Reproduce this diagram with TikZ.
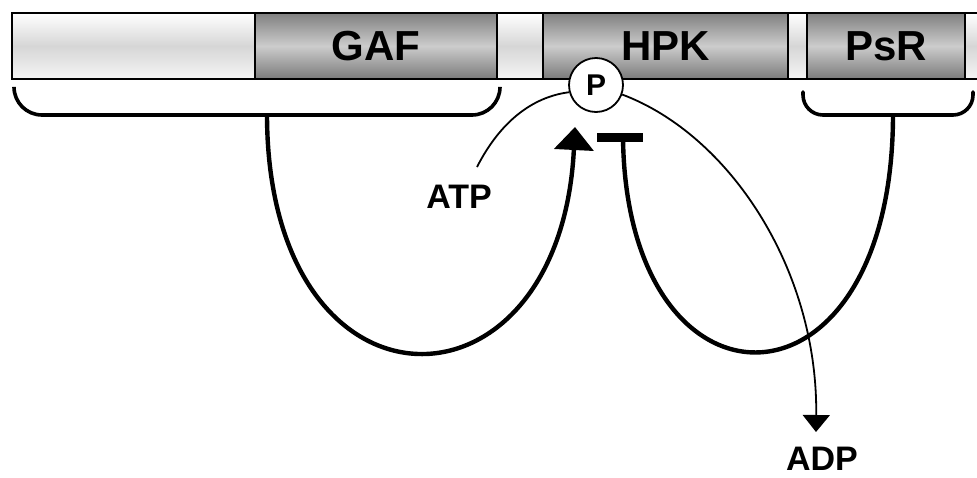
\documentclass[tikz,border=0pt]{standalone}
\usepackage{fontspec}
\setmainfont{Liberation Sans}
\usetikzlibrary{arrows.meta}
\begin{document}
\begin{tikzpicture}[x=1pt,y=-1pt,
  seg/.style={draw, line width=2.8pt, minimum height=66pt, inner sep=0pt, outer sep=0pt, anchor=north west, font=\bfseries\fontsize{42}{42}\selectfont},
  lite/.style={seg, top color=white, bottom color=black!4, middle color=black!16},
  darkseg/.style={seg, top color=black!50, bottom color=black!52, middle color=black!20},
  brace/.style={line width=3.6pt, line cap=round},
  loopline/.style={line width=4.4pt},
  thinline/.style={line width=1.8pt},
  lbl/.style={font=\bfseries\fontsize{34}{34}\selectfont, anchor=base, inner sep=0pt}
]
\useasboundingbox (0,0) rectangle (977,477);

% domain bar
\node[lite, minimum width=243pt] (s1) at (12,13) {};
\node[darkseg, minimum width=242pt] (gaf) at (255,13) {\raisebox{-3pt}{GAF}};
\node[lite, minimum width=46pt] (s3) at (497,13) {};
\node[darkseg, minimum width=245pt] (hpk) at (543,13) {\raisebox{-2pt}{HPK}};
\node[lite, minimum width=19pt] (s5) at (788,13) {};
\node[darkseg, minimum width=158pt] (psr) at (807,13) {\raisebox{-2pt}{PsR}};
\node[lite, minimum width=40pt] (s7) at (965,13) {};

% brackets
\draw[brace, rounded corners=28pt] (14,88) -- (14,115) -- (500,115) -- (500,88);
\draw[brace, rounded corners=20pt] (803,92) -- (803,115) -- (973,115) -- (973,92);
\coordinate (lstem) at (267,114);
\coordinate (rstem) at (893,114);

% phosphate
\node[circle, draw, fill=white, line width=1.8pt, minimum size=54pt, inner sep=0pt,
      font=\bfseries\fontsize{30}{30}\selectfont] (p) at (596,85) {P};

% labels
\node[lbl] (atp) at (459,208) {ATP};
\node[lbl] (adp) at (822,470) {ADP};
\coordinate (atpstart) at (477,167);
\coordinate (adptip) at (816,432);
\coordinate (atptip) at (575,127);
\coordinate (tbar) at (623,137);
\coordinate (tbl) at (597,137);
\coordinate (tbr) at (643,137);

% activation loop
\draw[loopline, -{Triangle[width=39pt,length=23pt]}] (lstem) .. controls (267,428) and (560,428) .. (atptip);
% inhibition loop
\draw[loopline] (rstem) .. controls (893,428) and (626,428) .. (tbar);
\draw[line width=9pt] (tbl) -- (tbr);

% ATP / ADP
\draw[thinline] (atpstart) .. controls (500,122) and (532,97) .. (p.195);
\draw[thinline, -{Triangle[width=27pt,length=17pt]}] (p.-20) .. controls (730,135) and (818,270) .. (adptip);
\end{tikzpicture}
\end{document}
